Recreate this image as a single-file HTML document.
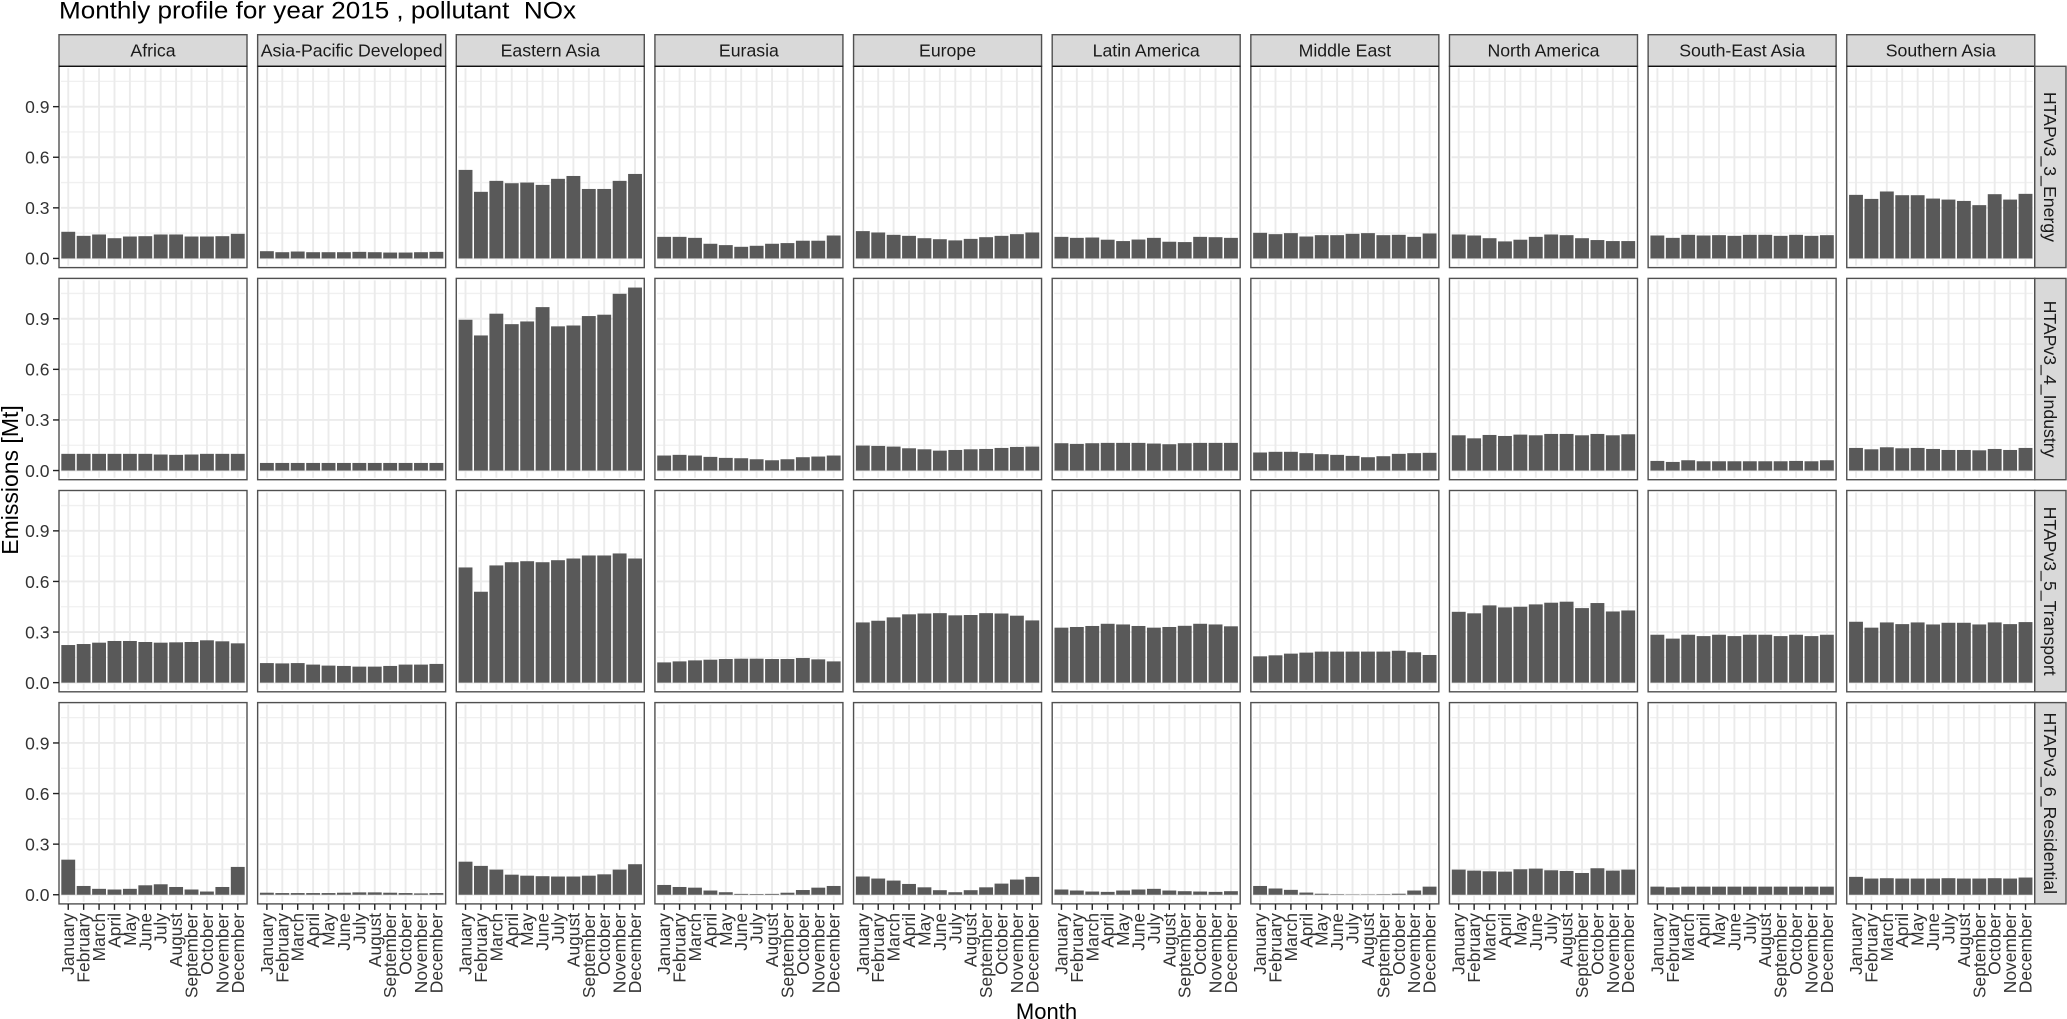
<!DOCTYPE html>
<html lang="en">
<head>
<meta charset="utf-8">
<title>Monthly profile for year 2015, pollutant NOx</title>
<style>
html,body{margin:0;padding:0;background:#fff;}
body{width:2067px;height:1019px;overflow:hidden;}
svg{display:block;font-family:"Liberation Sans",Arial,sans-serif;}
text{white-space:pre;}
</style>
</head>
<body>
<svg id="chart" xmlns="http://www.w3.org/2000/svg" width="2067" height="1019" viewBox="0 0 2067 1019">
  <rect x="0" y="0" width="2067" height="1019" fill="#ffffff"/>
  <text x="59" y="18.5" font-size="24" fill="#000" textLength="517" lengthAdjust="spacingAndGlyphs">Monthly profile for year 2015 , pollutant  NOx</text>
  <text x="1046.5" y="1019" font-size="22" fill="#000" text-anchor="middle">Month</text>
  <text x="0" y="0" font-size="23" fill="#000" text-anchor="middle" transform="translate(18,480) rotate(-90)">Emissions [Mt]</text>
  <g id="panels"></g>
</svg>
<script>
const months = ["January","February","March","April","May","June","July","August","September","October","November","December"];
const regions = ["Africa","Asia-Pacific Developed","Eastern Asia","Eurasia","Europe","Latin America","Middle East","North America","South-East Asia","Southern Asia"];
const sectors = ["HTAPv3_3_Energy","HTAPv3_4_Industry","HTAPv3_5_Transport","HTAPv3_6_Residential"];
const yMajorTicks = [0, 0.3, 0.6, 0.9];
const yMinorTicks = [0.15, 0.45, 0.75, 1.05];

const energyValues = [
  [.158,.134,.142,.120,.130,.132,.142,.142,.130,.130,.132,.146],
  [.043,.037,.041,.037,.037,.037,.039,.037,.035,.035,.037,.039],
  [.525,.395,.460,.446,.450,.436,.472,.489,.412,.412,.460,.501],
  [.128,.128,.122,.087,.079,.069,.075,.087,.091,.105,.105,.136],
  [.162,.154,.140,.134,.120,.114,.107,.116,.126,.134,.144,.154],
  [.128,.122,.124,.111,.103,.112,.122,.099,.097,.128,.126,.122],
  [.152,.144,.150,.130,.138,.138,.146,.150,.138,.140,.128,.148],
  [.142,.136,.120,.101,.111,.128,.142,.138,.120,.109,.103,.103],
  [.136,.122,.140,.136,.138,.134,.140,.140,.134,.140,.134,.138],
  [.377,.353,.397,.375,.375,.355,.349,.341,.316,.381,.349,.383]
];
const industryValues = [
  [.099,.099,.099,.099,.099,.099,.095,.093,.095,.099,.099,.099],
  [.045,.045,.045,.045,.045,.045,.045,.045,.045,.045,.045,.045],
  [.894,.801,.930,.868,.884,.969,.855,.860,.916,.924,1.048,1.085],
  [.089,.093,.089,.081,.075,.073,.067,.061,.067,.079,.083,.089],
  [.148,.146,.142,.132,.126,.118,.122,.126,.128,.134,.140,.142],
  [.162,.158,.162,.164,.164,.164,.160,.156,.162,.164,.164,.164],
  [.107,.111,.111,.103,.097,.093,.087,.079,.085,.099,.103,.105],
  [.209,.191,.211,.205,.213,.209,.217,.217,.209,.217,.209,.215],
  [.057,.051,.061,.055,.055,.055,.055,.055,.055,.057,.055,.061],
  [.134,.126,.138,.132,.134,.128,.122,.122,.120,.128,.122,.134]
];
const transportValues = [
  [.223,.229,.237,.247,.247,.241,.237,.239,.241,.251,.245,.233],
  [.116,.114,.116,.107,.101,.099,.095,.095,.099,.107,.107,.111],
  [.683,.539,.695,.714,.720,.714,.726,.736,.754,.754,.766,.736],
  [.120,.126,.132,.136,.140,.142,.142,.140,.140,.146,.138,.126],
  [.357,.367,.387,.405,.410,.412,.399,.401,.412,.410,.397,.369],
  [.326,.330,.336,.349,.345,.336,.326,.330,.337,.349,.345,.334],
  [.156,.162,.172,.178,.184,.184,.184,.184,.184,.189,.180,.164],
  [.420,.411,.458,.446,.450,.464,.474,.480,.442,.472,.422,.428],
  [.284,.261,.284,.276,.284,.276,.284,.284,.276,.284,.276,.284],
  [.361,.326,.357,.347,.357,.345,.355,.355,.345,.357,.347,.359]
];
const residentialValues = [
  [.208,.052,.035,.031,.035,.056,.062,.046,.031,.019,.046,.165],
  [.012,.010,.010,.010,.010,.012,.014,.014,.012,.010,.008,.010],
  [.196,.171,.149,.119,.113,.110,.108,.108,.113,.121,.149,.181],
  [.058,.046,.042,.025,.015,.005,.004,.005,.012,.028,.042,.052],
  [.108,.096,.084,.064,.044,.027,.015,.027,.044,.066,.090,.106],
  [.031,.025,.019,.017,.025,.031,.035,.025,.021,.019,.017,.021],
  [.052,.037,.029,.013,.006,.003,.002,.002,.003,.006,.025,.048],
  [.149,.143,.139,.137,.151,.155,.145,.141,.129,.157,.143,.149],
  [.048,.044,.048,.048,.048,.048,.048,.048,.048,.048,.048,.048],
  [.106,.096,.098,.096,.096,.096,.098,.096,.096,.098,.096,.102]
];
const sectorValues = [energyValues, industryValues, transportValues, residentialValues];

const NS = "http://www.w3.org/2000/svg";
const root = document.getElementById("panels");
const panelLeft = 59, panelPitchX = 198.64, panelW = 188;
const panelTop = 66.3, panelPitchY = 212.1, panelH = 201.3;
const stripTop = 34.7, stripRight = 2066;
const yMin = -0.0543, yMax = 1.1393;

function mk(tag, attrs, parent) {
  const el = document.createElementNS(NS, tag);
  for (const k in attrs) el.setAttribute(k, attrs[k]);
  (parent || root).appendChild(el);
  return el;
}
function xScale(col, i) {
  return panelLeft + panelPitchX * col + ((i + 1 - 0.4) / 12.2) * panelW;
}
function yScale(row, v) {
  return panelTop + panelPitchY * row + panelH * (1 - (v - yMin) / (yMax - yMin));
}
const bandW = panelW / 12.2 * 0.9;

sectors.forEach(function (sector, r) {
  const py = panelTop + panelPitchY * r;
  regions.forEach(function (region, c) {
    const px = panelLeft + panelPitchX * c;
    const g = mk("g", {});
    
    

    yMinorTicks.forEach(function (t) {
      const y = yScale(r, t);
      const l = mk("line", {x1: px + 2, x2: px + panelW - 2, y1: y, y2: y, stroke: "#f0f0f0", "stroke-width": 1.3}, g);
      
      
    });
    yMajorTicks.forEach(function (t) {
      const y = yScale(r, t);
      const l = mk("line", {x1: px + 2, x2: px + panelW - 2, y1: y, y2: y, stroke: "#ebebeb", "stroke-width": 1.9}, g);
      
      
    });
    months.forEach(function (m, i) {
      const x = xScale(c, i);
      const l = mk("line", {x1: x, x2: x, y1: py + 2, y2: py + panelH - 2, stroke: "#ebebeb", "stroke-width": 1.9}, g);
      
      
    });

    sectorValues[r][c].forEach(function (v, i) {
      const top = yScale(r, v), base = yScale(r, 0);
      const b = mk("rect", {x: xScale(c, i) - bandW / 2, y: top, width: bandW, height: base - top, fill: "#595959"}, g);
      
      
    });

    const border = mk("rect", {x: px, y: py, width: panelW, height: panelH, fill: "none", stroke: "#505050", "stroke-width": 1.4}, g);
    
    

    if (r === 0) {
      const s = mk("rect", {x: px, y: stripTop, width: panelW, height: panelTop - stripTop, fill: "#d9d9d9", stroke: "#505050", "stroke-width": 1.4}, g);
      
      
      const sl = mk("line", {x1: px, x2: px + panelW, y1: panelTop, y2: panelTop, stroke: "#111", "stroke-width": 1.4}, g);
      
      
      const st = mk("text", {x: px + panelW / 2, y: 56.5, "font-size": 17.7, fill: "#1a1a1a", "text-anchor": "middle"}, g);
      st.textContent = region;
      
      
    }

    if (c === 0) {
      yMajorTicks.forEach(function (t) {
        const y = yScale(r, t);
        const tk = mk("line", {x1: px - 6, x2: px, y1: y, y2: y, stroke: "#222", "stroke-width": 1.4}, g);
        
        
        const lb = mk("text", {x: 49.5, y: y + 6.3, "font-size": 17.5, fill: "#333", "text-anchor": "end"}, g);
        lb.textContent = t.toFixed(1);
        
        
      });
    }

    if (r === sectors.length - 1) {
      months.forEach(function (m, i) {
        const x = xScale(c, i);
        const tk = mk("line", {x1: x, x2: x, y1: py + panelH, y2: py + panelH + 6, stroke: "#222", "stroke-width": 1.4}, g);
        
        
        const lb = mk("text", {"font-size": 17.4, fill: "#333", "text-anchor": "end", transform: "translate(" + (x + 6) + ",913) rotate(-90)"}, g);
        lb.textContent = m;
        
        
      });
    }
  });

  const sx = panelLeft + panelPitchX * 9 + panelW;
  const rs = mk("rect", {x: sx, y: py, width: stripRight - sx, height: panelH, fill: "#d9d9d9", stroke: "#505050", "stroke-width": 1.4});
  
  
  const rt = mk("text", {"font-size": 17.7, fill: "#1a1a1a", "text-anchor": "middle", transform: "translate(2044," + (py + panelH / 2) + ") rotate(90)"});
  rt.textContent = sector;
  
  
});
</script>
</body>
</html>
